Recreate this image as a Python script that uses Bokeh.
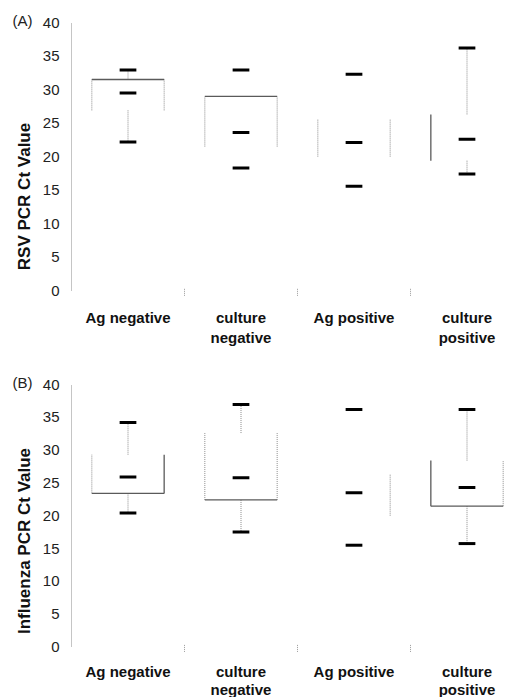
from bokeh.plotting import figure
from bokeh.layouts import column
from bokeh.models import Range1d, FixedTicker, ColumnDataSource
from bokeh.core.properties import value
from bokeh.embed import file_html
from bokeh.resources import INLINE

# ---------------- data ----------------
categories = ["Ag negative", "culture\nnegative", "Ag positive", "culture\npositive"]
y_ticks = [0, 5, 10, 15, 20, 25, 30, 35, 40]

# (A) RSV
rsv_q1 = [26.9, 21.5, 20.0, 19.4]
rsv_q3 = [31.5, 29.0, 25.6, 26.3]
rsv_min = [22.2, 18.3, 15.6, 17.4]
rsv_median = [29.5, 23.6, 22.1, 22.6]
rsv_max = [32.9, 32.9, 32.3, 36.2]

# (B) Influenza
flu_q1 = [23.4, 22.4, 20.0, 21.45]
flu_q3 = [29.3, 32.6, 26.4, 28.4]
flu_min = [20.4, 17.5, 15.5, 15.75]
flu_median = [25.9, 25.8, 23.5, 24.3]
flu_max = [34.2, 36.95, 36.2, 36.2]

# which box edges / whiskers are drawn, and how (styles only)
rsv_edges = [
    {"top": "solid", "left": "dot", "right": "dot", "upper": "dot", "lower": "dot"},
    {"top": "solid", "left": "dot", "right": "dot"},
    {"left": "dot", "right": "dot"},
    {"left": "solid", "upper": "dot", "lower": "dot"},
]
flu_edges = [
    {"bottom": "solid", "right": "solid", "left": "dot", "upper": "dot", "lower": "dot"},
    {"bottom": "solid", "left": "dot", "right": "dot", "upper": "dot", "lower": "dot"},
    {"right": "dot"},
    {"bottom": "solid", "left": "solid", "right": "dot", "upper": "dot", "lower": "dot"},
]

BOX_HALF = 0.32
DASH_HALF = 0.074
FONT = "Liberation Sans"
PX_PER_CAT = 113.0
Y_MAX = 40


def make_panel(tag, ylabel, q1, q3, vmin, vmed, vmax, edges, height, b_top, px_per_unit,
               base1_px, base2_px):
    frame_w = 516 - 71
    frame_h = height - b_top
    y_start = Y_MAX - frame_h / px_per_unit
    p = figure(width=516, height=height, output_backend="svg", toolbar_location=None,
               x_range=Range1d(0, frame_w / PX_PER_CAT), y_range=Range1d(y_start, Y_MAX),
               min_border_left=71, min_border_right=0,
               min_border_top=b_top, min_border_bottom=0)
    p.outline_line_color = None
    p.xgrid.visible = False
    p.ygrid.visible = False
    p.xaxis.visible = False
    p.background_fill_color = "white"

    # panel tag "(A)" / "(B)"
    p.title.text = tag
    p.title.align = "left"
    p.title.offset = -59
    p.title.standoff = -13
    p.title.text_font = FONT
    p.title.text_font_style = "normal"
    p.title.text_font_size = "15px"
    p.title.text_color = "#222222"

    # y axis
    ya = p.yaxis[0]
    ya.ticker = FixedTicker(ticks=y_ticks)
    ya.bounds = (0, Y_MAX)
    ya.axis_line_color = "#8a8a8a"
    ya.axis_line_dash = "1 1"
    ya.major_tick_line_color = None
    ya.major_tick_out = 0
    ya.major_tick_in = 0
    ya.minor_tick_line_color = None
    ya.minor_tick_out = 0
    ya.minor_tick_in = 0
    ya.major_label_standoff = 12
    ya.major_label_text_font = FONT
    ya.major_label_text_font_size = "15px"
    ya.major_label_text_color = "#222222"
    ya.axis_label = ylabel
    ya.axis_label_text_font = FONT
    ya.axis_label_text_font_style = "bold"
    ya.axis_label_text_font_size = "17px"
    ya.axis_label_text_color = "#111111"
    ya.axis_label_standoff = 6

    centers = [i + 0.5 for i in range(len(categories))]

    # category labels (under the zero line)
    base1 = -base1_px / px_per_unit
    base2 = -base2_px / px_per_unit
    lx, ly, lt = [], [], []
    for xc, cat in zip(centers, categories):
        for j, line in enumerate(cat.split("\n")):
            lx.append(xc); ly.append(base1 if j == 0 else base2); lt.append(line)
    p.text(x=lx, y=ly, text=lt, text_align="center", text_baseline="alphabetic",
           text_font=value(FONT), text_font_style="bold", text_font_size="15px",
           text_color="#111111")

    # dotted separators between categories at the baseline
    sep = [c + 0.5 for c in centers[:-1]]
    p.segment(x0=sep, y0=[2.0 / px_per_unit] * len(sep), x1=sep,
              y1=[-5.0 / px_per_unit] * len(sep),
              line_color="#999999", line_width=1, line_dash="1 1")

    # box edges and whiskers
    seg = {"solid": dict(x0=[], y0=[], x1=[], y1=[]), "dot": dict(x0=[], y0=[], x1=[], y1=[])}
    for i, e in enumerate(edges):
        xc = centers[i]
        lo, hi = q1[i], q3[i]
        geo = {
            "top": (xc - BOX_HALF, hi, xc + BOX_HALF, hi),
            "bottom": (xc - BOX_HALF, lo, xc + BOX_HALF, lo),
            "left": (xc - BOX_HALF, lo, xc - BOX_HALF, hi),
            "right": (xc + BOX_HALF, lo, xc + BOX_HALF, hi),
            "upper": (xc, hi, xc, vmax[i]),
            "lower": (xc, lo, xc, vmin[i]),
        }
        for k, style in e.items():
            a, b, c, d = geo[k]
            s = seg[style]
            s["x0"].append(a); s["y0"].append(b); s["x1"].append(c); s["y1"].append(d)

    p.segment(x0="x0", y0="y0", x1="x1", y1="y1", source=ColumnDataSource(seg["dot"]),
              line_color="#8c8c8c", line_width=1, line_dash="1 1")
    p.segment(x0="x0", y0="y0", x1="x1", y1="y1", source=ColumnDataSource(seg["solid"]),
              line_color="#5a5a5a", line_width=1.3)

    # min / median / max dashes
    dx0, dx1, dy = [], [], []
    for i, xc in enumerate(centers):
        for v in (vmin[i], vmed[i], vmax[i]):
            dx0.append(xc - DASH_HALF); dx1.append(xc + DASH_HALF); dy.append(v)
    p.segment(x0=dx0, y0=dy, x1=dx1, y1=dy, line_color="black", line_width=3, line_cap="butt")
    return p


pA = make_panel("(A)", "RSV PCR Ct Value", rsv_q1, rsv_q3, rsv_min, rsv_median, rsv_max,
                rsv_edges, height=370, b_top=22, px_per_unit=268.3 / 40,
                base1_px=27.0, base2_px=47.0)
pB = make_panel("(B)", "Influenza PCR Ct Value", flu_q1, flu_q3, flu_min, flu_median, flu_max,
                flu_edges, height=327, b_top=14, px_per_unit=262.4 / 40,
                base1_px=25.0, base2_px=43.0)

layout = column(pA, pB, spacing=0)
open("out.html", "w").write(file_html(layout, INLINE))
